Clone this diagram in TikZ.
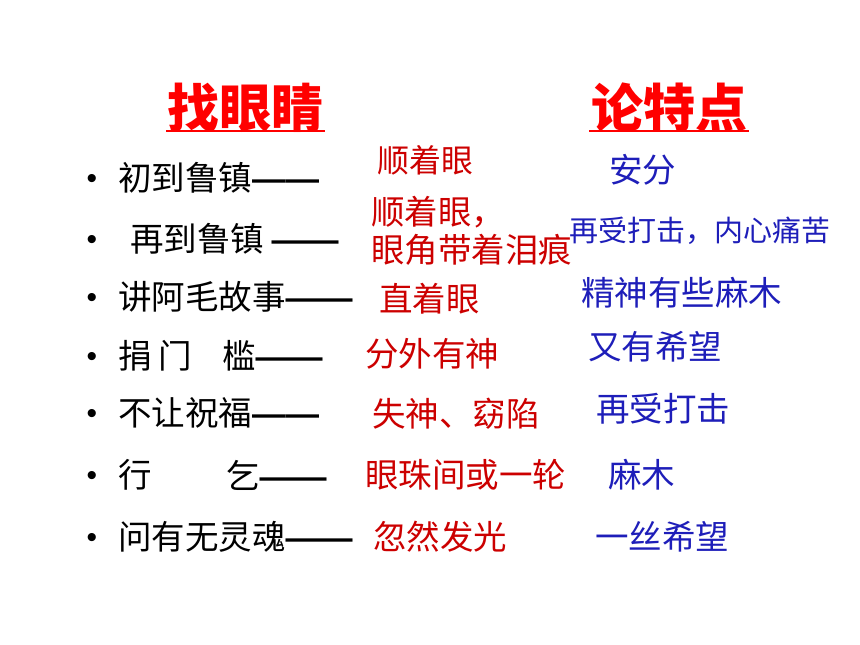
\documentclass[tikz,border=0pt]{standalone}
\usepackage{fontspec}
\setmainfont{Noto Sans CJK SC}
\newfontfamily\dashfont{Liberation Sans}
\newcommand{\dd}{{\dashfont\bfseries ——}}
\definecolor{tred}{RGB}{255,0,0}
\definecolor{ared}{RGB}{204,0,0}
\definecolor{ablue}{RGB}{30,30,185}
\tikzset{
  title/.style={anchor=center,inner sep=0pt,text=tred,font=\fontsize{52}{52}\selectfont\bfseries},
  bul/.style={anchor=base,inner sep=0pt,font=\dashfont\fontsize{30}{30}\selectfont},
  left/.style={anchor=west,inner sep=0pt,font=\fontsize{33.5}{33.5}\selectfont},
  red/.style={anchor=west,inner sep=0pt,text=ared,font=\fontsize{33.5}{38}\selectfont},
  blue/.style={anchor=west,inner sep=0pt,text=ablue,font=\fontsize{33.5}{33.5}\selectfont},
  uline/.style={line width=2.5pt,tred}
}
\begin{document}
\begin{tikzpicture}[x=1pt,y=-1pt]
\useasboundingbox (0,0) rectangle (860,645);
\node[title] (t1) at (245,108) {找眼睛};
\node[title] (t2) at (669,108) {论特点};
\coordinate (u1a) at (166,131); \coordinate (u1b) at (325,131);
\coordinate (u2a) at (589,131); \coordinate (u2b) at (749,131);
\draw[uline] (u1a) -- (u1b);
\draw[uline] (u2a) -- (u2b);
% bullets
\foreach \y [count=\i] in {178,239,297,356,413,475,537}
  \node[bul] (b\i) at (92,\y+10) {•};
% left column
\node[left] (l1) at (118,178) {初到鲁镇\dd};
\node[left] (l2) at (130,239) {再到鲁镇 \dd};
\node[left] (l3) at (118,297) {讲阿毛故事\dd};
\node[left] (l4a) at (118,356) {捐};
\node[left] (l4b) at (158,356) {门};
\node[left] (l4c) at (222,356) {槛\dd};
\node[left] (l5) at (118,413) {不让祝福\dd};
\node[left] (l6a) at (118,475) {行};
\node[left] (l6b) at (226,475) {乞\dd};
\node[left] (l7) at (118,537) {问有无灵魂\dd};
% red column
\node[red,font=\fontsize{32}{32}\selectfont] (r1) at (377,160) {顺着眼};
\node[red,align=left] (r2) at (371,231) {顺着眼，\\眼角带着泪痕};
\node[red] (r3) at (379,299) {直着眼};
\node[red] (r4) at (365,354) {分外有神};
\node[red] (r5) at (372,414) {失神、窈陷};
\node[red] (r6) at (365,475) {眼珠间或一轮};
\node[red] (r7) at (373,537) {忽然发光};
% blue column
\node[blue] (c1) at (609,170) {安分};
\node[blue,font=\fontsize{29}{29}\selectfont] (c2) at (569,231) {再受打击，内心痛苦};
\node[blue] (c3) at (581,293) {精神有些麻木};
\node[blue] (c4) at (588,347) {又有希望};
\node[blue] (c5) at (596,409) {再受打击};
\node[blue] (c6) at (608,475) {麻木};
\node[blue] (c7) at (595,537) {一丝希望};
\end{tikzpicture}
\end{document}
